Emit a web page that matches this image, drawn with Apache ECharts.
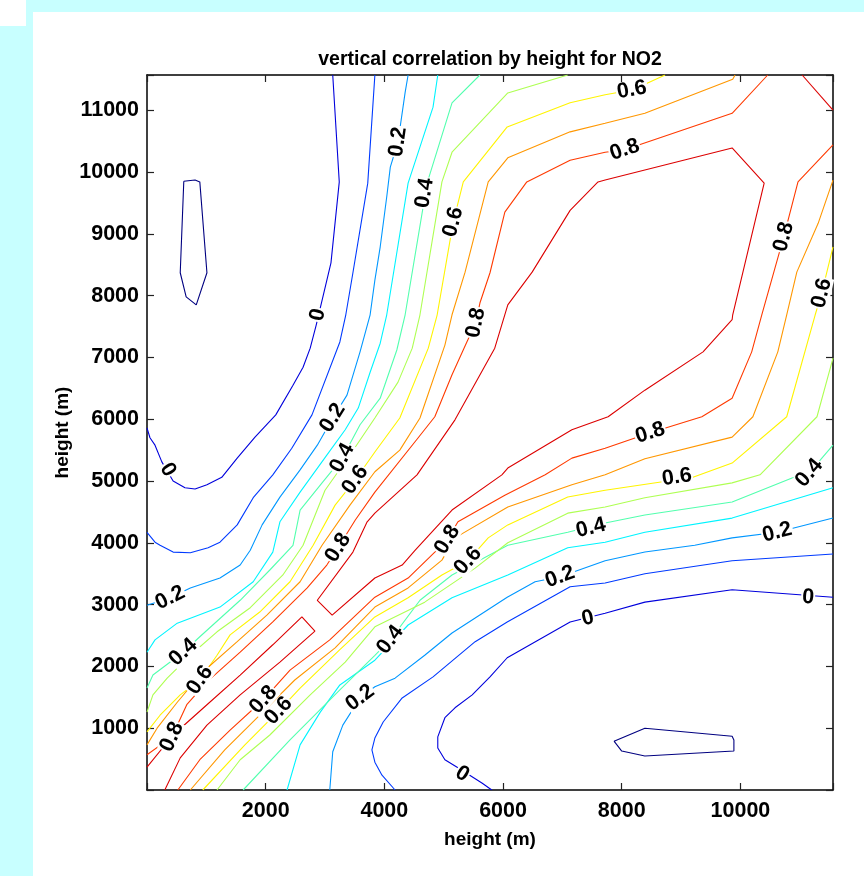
<!DOCTYPE html>
<html><head><meta charset="utf-8">
<script src="https://cdn.jsdelivr.net/npm/echarts/dist/echarts.min.js"></script>
<style>html,body{margin:0;padding:0;background:#c8ffff;}#c{width:864px;height:876px;}</style>
</head><body><div id="c"></div>
<script>
// ---------- DATA (heights in m; contour vertices) ----------
const chartTitle = 'vertical correlation by height for NO2';
const xName = 'height (m)', yName = 'height (m)';
const xTicks = [2000, 4000, 6000, 8000, 10000];
const yTicks = [1000, 2000, 3000, 4000, 5000, 6000, 7000, 8000, 9000, 10000, 11000];
const levels = [-0.1, 0, 0.1, 0.2, 0.3, 0.4, 0.5, 0.6, 0.7, 0.8, 0.9];
const levelColors = ['#000080','#0000dc','#003aff','#0097ff','#00f4ff','#52ffae','#aeff52','#fff400','#ff9700','#ff3a00','#dc0000'];

const lvlM01_a = [[620,9850],[810,9870],[890,9840],[1010,8370],[830,7850],[660,7980],[560,8370],[620,9850]];
const lvlM01_b = [[7870,790],[8390,1000],[9860,870],[9890,810],[9890,630],[9860,620],[8390,550],[8000,630],[7870,790]];
const lvl00_a = [[3130,11570],[3240,9840],[3100,8530],[2920,7800],[2850,7520],[2750,7150],[2630,6840],[2460,6550],[2170,6070],[1820,5710],[1520,5370],[1260,5060],[1010,4940],[810,4870],[640,4890],[440,5000],[250,5310],[135,5580],[50,5700],[0,5860]];
const lvl00_b = [[11560,3120],[9860,3240],[8390,3040],[7720,2860],[7130,2720],[6070,2140],[5780,1830],[5480,1540],[5190,1330],[5020,1170],[4900,860],[4900,680],[5020,490],[5240,360],[5650,110],[5810,0]];
const lvl01_a = [[3840,11570],[3720,9820],[3470,8370],[3350,7690],[3250,7250],[2780,6070],[2440,5530],[2120,5100],[1790,4730],[1520,4290],[1230,4010],[1030,3920],[730,3840],[440,3850],[220,3960],[135,4010],[0,4170]];
const lvl01_b = [[11560,3820],[9860,3710],[8390,3500],[7720,3350],[7130,3290],[6070,2720],[5530,2400],[4820,1830],[4300,1490],[3980,1100],[3840,840],[3790,650],[3840,450],[3960,240],[4180,0]];
const lvl02_a = [[4400,11570],[4350,11290],[4230,10490],[4100,10080],[4040,9600],[3930,8790],[3840,8250],[3760,7690],[3590,7090],[3370,6390],[3130,6020],[2870,5580],[2580,5180],[2240,4740],[1940,4290],[1740,3880],[1570,3640],[1230,3430],[730,3270],[390,3110],[0,2990]];
const lvl02_b = [[11560,4400],[10620,4170],[9860,4080],[9230,3960],[8390,3850],[7720,3710],[6960,3450],[6540,3370],[6070,3120],[5140,2540],[4680,2180],[4180,1810],[3840,1670],[3590,1490],[3300,1050],[3130,620],[3080,0]];
const lvl03_a = [[4900,11570],[4820,11050],[4400,9820],[4040,7690],[3930,7230],[3760,6760],[3560,6180],[3340,5830],[3030,5420],[2580,4820],[2240,4340],[2120,3850],[1790,3370],[1230,2960],[510,2700],[135,2430],[0,2230]];
const lvl03_b = [[11560,4890],[9860,4400],[8390,4170],[7720,4010],[7090,3920],[6080,3480],[5140,3110],[4400,2670],[3840,2100],[3250,1700],[2920,1260],[2580,730],[2360,0]];
const lvl04_a = [[5610,11570],[5140,11120],[4720,9820],[4350,7690],[4210,7120],[3930,6340],[3590,5910],[3290,5370],[2950,4970],[2580,4530],[2460,3960],[2070,3560],[1570,3070],[890,2480],[610,2230],[100,1860],[0,1650]];
const lvl04_b = [[11560,5580],[11160,5130],[10870,5050],[9860,4660],[8390,4450],[7720,4320],[7090,4170],[6080,3960],[5140,3480],[4600,3070],[4100,2430],[3840,2180],[3250,1620],[2410,810],[1620,0]];
const lvl05_a = [[7090,11570],[6080,11280],[5140,10320],[4970,9840],[4600,7690],[4470,7150],[4230,6600],[3840,6020],[3420,5420],[3000,4850],[2630,3960],[2290,3480],[1740,2950],[1180,2560],[730,2180],[340,1810],[100,1540],[0,1260]];
const lvl05_b = [[11560,6990],[11290,6040],[10330,5100],[9860,4970],[8390,4730],[7720,4580],[7090,4480],[6080,4000],[5530,3590],[4680,3040],[3840,2640],[3340,2070],[2750,1540],[2070,890],[1570,490],[1180,0]];
const lvl06_a = [[8730,11570],[8190,11330],[7720,11250],[7130,11120],[6070,10730],[5330,9840],[5160,9190],[4890,7690],[4740,7150],[4260,6020],[3840,5470],[3510,5020],[3170,4610],[2800,3960],[2410,3370],[1900,2880],[1400,2510],[1180,2180],[890,1780],[560,1540],[220,1210],[0,940]];
const lvl06_b = [[11560,8790],[11370,8040],[11260,7690],[10780,6040],[9860,5290],[9200,5060],[7720,4850],[7090,4740],[6080,4290],[5750,4080],[5410,3710],[4970,3480],[4400,3110],[3840,2800],[3250,2270],[2580,1650],[2220,1280],[1650,730],[940,0]];
const lvl07_a = [[9910,11570],[9870,11500],[8390,10950],[7720,10790],[7130,10650],[6080,10230],[5750,9840],[5360,8380],[5140,7690],[5020,7200],[4600,6020],[4260,5500],[3840,5150],[3420,4610],[2950,3960],[2580,3370],[2020,2830],[1520,2400],[940,1910],[510,1420],[170,1000],[0,730]];
const lvl07_b = [[11560,9870],[11310,9170],[10950,8380],[10780,7690],[10630,7090],[10210,6040],[9860,5710],[8390,5360],[7720,5100],[7160,4940],[6080,4580],[5190,4080],[4970,3720],[4400,3270],[3840,2960],[3170,2300],[2490,1780],[1900,1210],[1310,650],[730,0]];
const lvl08_a = [[10460,11570],[9860,10950],[8050,10360],[7720,10320],[7130,10190],[6400,9840],[6030,9350],[5780,8370],[5610,7880],[5540,7560],[5390,7250],[5140,6720],[4850,6040],[4570,5700],[3840,4820],[3510,4370],[3220,3920],[3030,3640],[2700,3270],[2120,2720],[1570,2230],[1010,1750],[670,1380],[420,860],[0,570]];
const lvl08_b = [[11560,10440],[10970,9840],[10730,8950],[10360,7690],[10190,7090],[9860,6340],[9350,6040],[8480,5780],[7720,5530],[7160,5370],[6710,5100],[6030,4770],[5240,4340],[5060,4050],[4850,3850],[4400,3430],[3840,3120],[3080,2430],[2410,1940],[1960,1460],[1400,970],[890,490],[520,0]];
const lvl09_a = [[7720,9870],[9860,10390],[10400,9820],[9870,7690],[9860,7610],[9370,7090],[8390,6470],[7770,6040],[7160,5830],[6080,5210],[5980,5100],[5140,4530],[4520,3880],[4300,3640],[3840,3430],[3120,2830],[2870,3070],[3470,3850],[3710,4340],[3840,4480],[4550,5100],[5190,5990],[5860,7150],[6080,7850],[6490,8380],[7130,9380],[7600,9840],[7720,9870]];
const lvl09_b = [[0,370],[440,890],[1010,1380],[1570,1860],[2120,2350],[2610,2800],[2830,2570],[2240,2070],[1570,1540],[1010,1050],[560,520],[300,0]];
const lvl09_c = [[11040,11570],[11560,11000]];

// contour label anchor points, per labelled level
const lab00 = [[2880,7690],[350,5180],[7430,2780],[11140,3120],[5310,260]];
const lab02 = [[4230,10490],[3130,6020],[390,3110],[3590,1490],[6960,3450],[10620,4170]];
const lab04 = [[4680,9660],[3290,5370],[610,2230],[4100,2430],[7480,4240],[11160,5130]];
const lab06 = [[5160,9190],[3510,5020],[890,1780],[2220,1280],[5410,3710],[8930,5060],[11370,8040],[8170,11330]];
const lab08 = [[5540,7560],[3220,3920],[420,860],[1960,1460],[5060,4050],[8480,5780],[10730,8950],[8050,10360]];

// ---------- BUILD ----------
const contourLines = [
  {level:-0.1, pts:lvlM01_a},{level:-0.1, pts:lvlM01_b},
  {level:0, pts:lvl00_a},{level:0, pts:lvl00_b},
  {level:0.1, pts:lvl01_a},{level:0.1, pts:lvl01_b},
  {level:0.2, pts:lvl02_a},{level:0.2, pts:lvl02_b},
  {level:0.3, pts:lvl03_a},{level:0.3, pts:lvl03_b},
  {level:0.4, pts:lvl04_a},{level:0.4, pts:lvl04_b},
  {level:0.5, pts:lvl05_a},{level:0.5, pts:lvl05_b},
  {level:0.6, pts:lvl06_a},{level:0.6, pts:lvl06_b},
  {level:0.7, pts:lvl07_a},{level:0.7, pts:lvl07_b},
  {level:0.8, pts:lvl08_a},{level:0.8, pts:lvl08_b},
  {level:0.9, pts:lvl09_a},{level:0.9, pts:lvl09_b},{level:0.9, pts:lvl09_c}
];
const labelSets = [{level:0, pts:lab00},{level:0.2, pts:lab02},{level:0.4, pts:lab04},{level:0.6, pts:lab06},{level:0.8, pts:lab08}];

const FONT = '"Liberation Sans", Arial, Helvetica, sans-serif';
const XMAX = 11560, YMAX = 11570;
const chart = echarts.init(document.getElementById('c'), null, {renderer:'canvas'});

const lineSeries = contourLines.map(c => ({
  type:'line', data:c.pts, symbol:'none', showSymbol:false, silent:true, animation:false,
  clip:true, z:2, lineStyle:{color:levelColors[levels.indexOf(c.level)], width:1.1}
}));

function axisCommon(extra){
  return Object.assign({
    type:'value', splitLine:{show:false},
    axisLine:{show:true, onZero:false, lineStyle:{color:'#000', width:1.5}},
    axisTick:{show:true, inside:true, length:7, lineStyle:{color:'#222', width:1.2}}
  }, extra);
}
const tickLabelStyle = {color:'#000', fontSize:21.5, fontWeight:'bold', fontFamily:FONT};

const option = {
  backgroundColor:'#c8ffff',
  animation:false,
  graphic:[
    {type:'rect', z:-100, shape:{x:33, y:12, width:900, height:900}, style:{fill:'#ffffff'}},
    {type:'rect', z:-100, shape:{x:0, y:0, width:26, height:26}, style:{fill:'#ffffff'}}
  ],
  title:{text:chartTitle, left:485, top:45, textAlign:'center',
    textStyle:{fontSize:19.5, fontWeight:'bold', color:'#000', fontFamily:FONT}},
  grid:{left:147, top:75, width:686, height:715, show:false},
  xAxis:[
    axisCommon({min:0, max:XMAX, interval:2000, position:'bottom',
      axisLabel:Object.assign({margin:10, formatter:v=>xTicks.includes(v)?String(v):''}, tickLabelStyle),
      name:xName, nameLocation:'middle', nameGap:40,
      nameTextStyle:{fontSize:19, fontWeight:'bold', color:'#000', fontFamily:FONT}}),
    axisCommon({min:0, max:XMAX, interval:2000, position:'top', axisLabel:{show:false}})
  ],
  yAxis:[
    axisCommon({min:0, max:YMAX, interval:1000, position:'left',
      axisLabel:Object.assign({margin:8, formatter:v=>yTicks.includes(v)?String(v):''}, tickLabelStyle),
      name:yName, nameLocation:'middle', nameGap:75, nameMoveOverlap:false,
      nameTextStyle:{fontSize:19, fontWeight:'bold', color:'#000', fontFamily:FONT}}),
    axisCommon({min:0, max:YMAX, interval:1000, position:'right', axisLabel:{show:false}})
  ],
  series: lineSeries
};
chart.setOption(option);

// orientation of each contour label follows the nearest segment of its own contour
function labelAngle(level, pos){
  const p = chart.convertToPixel({xAxisIndex:0, yAxisIndex:0}, pos);
  let best = null, bd = Infinity;
  contourLines.filter(c => c.level === level).forEach(c => {
    const px = c.pts.map(q => chart.convertToPixel({xAxisIndex:0, yAxisIndex:0}, q));
    for (let i = 0; i < px.length - 1; i++) {
      const a = px[i], b = px[i+1];
      const dx = b[0]-a[0], dy = b[1]-a[1];
      const L2 = dx*dx + dy*dy || 1;
      let t = ((p[0]-a[0])*dx + (p[1]-a[1])*dy) / L2;
      t = Math.max(0, Math.min(1, t));
      const qx = a[0] + t*dx, qy = a[1] + t*dy;
      const d = (qx-p[0])*(qx-p[0]) + (qy-p[1])*(qy-p[1]);
      if (d < bd) { bd = d; best = [dx, dy]; }
    }
  });
  if (!best) return 0;
  let ang = Math.atan2(-best[1], best[0]) * 180 / Math.PI;
  if (ang > 90) ang -= 180;
  if (ang <= -90) ang += 180;
  return ang;
}

const labelData = [];
labelSets.forEach(s => s.pts.forEach(pt => {
  labelData.push({
    value: pt,
    label: {show:true, position:'inside', formatter:String(s.level), rotate:labelAngle(s.level, pt),
      color:'#000', opacity:1, fontSize:21.5, fontWeight:'bold', fontFamily:FONT,
      textBorderWidth:0, textBorderColor:'transparent', textShadowBlur:0,
      backgroundColor:'#ffffff', padding:[-2,1]}
  });
}));

chart.setOption({series: lineSeries.concat([{
  type:'scatter', data:labelData, symbolSize:1, z:10, silent:true, animation:false,
  itemStyle:{color:'rgba(0,0,0,0)', opacity:1},
  label:{opacity:1}
}])});
</script>
</body></html>
